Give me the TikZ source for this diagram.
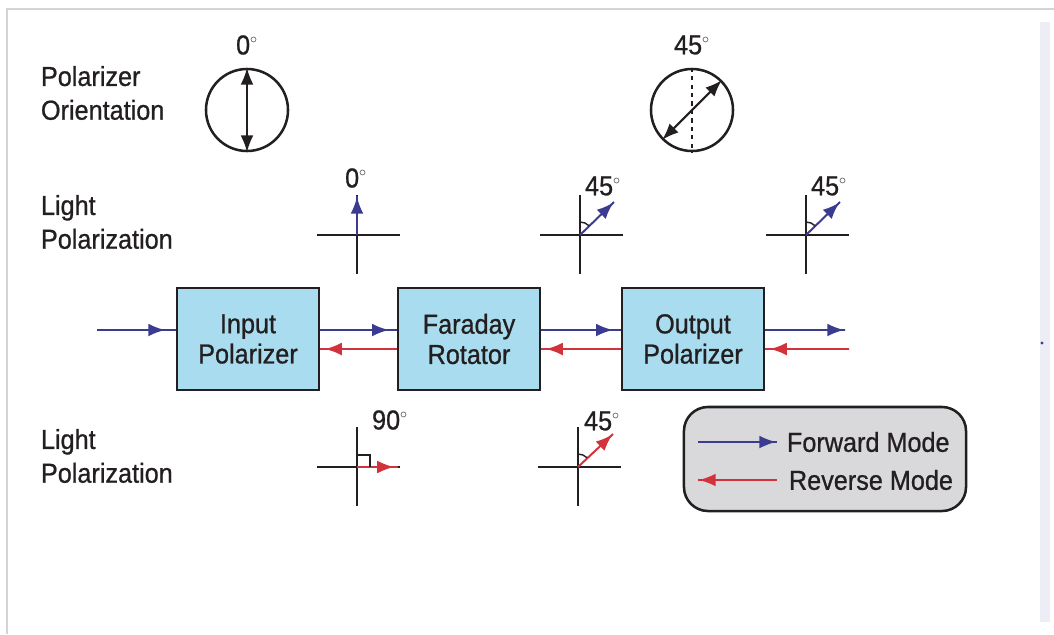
\documentclass[tikz,border=0pt]{standalone}
\usepackage{fontspec}
\setmainfont[FakeStretch=0.92,FakeBold=0.8]{Liberation Sans}
\definecolor{oiInk}{HTML}{231F20}
\definecolor{oiFwd}{HTML}{3B3B8F}
\definecolor{oiRev}{HTML}{D2323C}
\definecolor{oiBox}{HTML}{A9DCEE}
\definecolor{oiKey}{HTML}{D9D9DB}
\definecolor{oiFrame}{HTML}{D4D4D8}
\definecolor{oiStrip}{HTML}{EDEDF5}
\usetikzlibrary{arrows.meta,decorations.markings}

\newcommand\polcross[1]{\draw[axis] (#1) +(-40,0) -- +(43,0) (#1) +(0,-40) -- +(0,39);}
\newcommand\dg{$^{\scriptscriptstyle\circ}$}

\begin{document}
\begin{tikzpicture}[x=0.025cm,y=-0.025cm,
                    >={Latex[length=4.2mm,width=3.2mm]},
                    every node/.style={text=oiInk,font=\fontsize{19.5}{24}\selectfont},
                    block/.style={draw=oiInk,fill=oiBox,line width=1.6pt,align=center,
                                  minimum width=3.55cm,minimum height=2.55cm,
                                  font=\fontsize{19.5}{21.5}\selectfont},
                    sidetext/.style={anchor=west,align=left},
                    disc/.style={circle,draw=oiInk,line width=1.8pt,minimum size=2.05cm,inner sep=0pt},
                    keybox/.style={draw=oiInk,fill=oiKey,line width=1.8pt,rounded corners=0.6cm,
                                   minimum width=7.05cm,minimum height=2.6cm},
                    axis/.style={draw=oiInk,line width=1.5pt},
                    fwd/.style={oiFwd,line width=1.4pt,postaction=decorate,
                                decoration={markings,mark=at position #1 with {\arrow{>}}}},
                    rev/.style={oiRev,line width=1.4pt,postaction=decorate,
                                decoration={markings,mark=at position #1 with {\arrow{>}}}}]
  \useasboundingbox (0,0) rectangle (1054,634);
  \draw[oiFrame,line width=1.5pt] (7,634) -- (7,9) -- (1054,9);
  \fill[oiStrip] (1040,22) rectangle (1050,622);
  \fill[oiFwd] (1042,343) circle[radius=1.2pt];

  \node[sidetext] (orilbl) at (36,93) {Polarizer\\Orientation};
  \node[sidetext] (polup) at (36,222) {Light\\Polarization};
  \node[sidetext] (poldown) at (36,456) {Light\\Polarization};

  \node[disc] (ori0) at (247,110) {};
  \node (ori0deg) at (247,45) {0\dg};
  \draw[<->,line width=1.5pt,oiInk] (ori0.north) -- (ori0.south);
  \node[disc] (ori45) at (692,110) {};
  \node (ori45deg) at (692,45) {45\dg};
  \draw[dashed,line width=1.5pt,oiInk] (ori45.north) -- (ori45.south);
  \draw[<->,line width=1.5pt,oiInk] (ori45.225) -- (ori45.45);

  \node[block] (inpol) at (248,339) {Input\\Polarizer};
  \node[block] (farrot) at (469,339) {Faraday\\Rotator};
  \node[block] (outpol) at (693,339) {Output\\Polarizer};

  \coordinate (srcin) at (97,330);
  \coordinate (fwdout) at (845,330);
  \coordinate (revin) at (849,349);
  \draw[fwd=-2.7mm] (srcin) -- ([yshift=0.225cm]inpol.west);
  \draw[fwd=-2mm] ([yshift=0.225cm]inpol.east) -- ([yshift=0.225cm]farrot.west);
  \draw[fwd=-2mm] ([yshift=0.225cm]farrot.east) -- ([yshift=0.225cm]outpol.west);
  \draw[fwd=-0.2mm] ([yshift=0.225cm]outpol.east) -- (fwdout);
  \draw[rev=-1.2mm] (revin) -- ([yshift=-0.25cm]outpol.east);
  \draw[rev=-1.2mm] ([yshift=-0.25cm]outpol.west) -- ([yshift=-0.25cm]farrot.east);
  \draw[rev=-1.2mm] ([yshift=-0.25cm]farrot.west) -- ([yshift=-0.25cm]inpol.east);

  \coordinate (x1) at (357,235);
  \coordinate (x2) at (580,235);
  \coordinate (x3) at (806,235);
  \coordinate (x4) at (357,467);
  \coordinate (x5) at (578,467);
  \foreach \c in {x1,x2,x3,x4,x5} {\polcross{\c}}
  \coordinate (x1tip) at (357,196);
  \coordinate (x2tip) at (614,202);
  \coordinate (x3tip) at (840,202);
  \coordinate (x4tip) at (398,467);
  \coordinate (x5tip) at (613,434);
  \draw[fwd=-0.2mm] (x1) -- (x1tip);
  \draw[fwd=-0.2mm] (x2) -- (x2tip);
  \draw[fwd=-0.2mm] (x3) -- (x3tip);
  \draw[rev=-1mm] (x4) -- (x4tip);
  \draw[rev=-0.2mm] (x5) -- (x5tip);
  \draw[line width=1pt,oiInk] (x2) ++(0,-13) arc[start angle=90,end angle=45,radius=0.325cm];
  \draw[line width=1pt,oiInk] (x3) ++(0,-13) arc[start angle=90,end angle=45,radius=0.325cm];
  \draw[line width=1pt,oiInk] (x5) ++(0,-13) arc[start angle=90,end angle=45,radius=0.325cm];
  \draw[line width=1pt,oiInk] (x4) ++(0,-12) -| ++(13,12);
  \node (x1deg) at (356,178) {0\dg};
  \node (x2deg) at (603,186) {45\dg};
  \node (x3deg) at (829,186) {45\dg};
  \node (x4deg) at (390,420) {90\dg};
  \node (x5deg) at (602,421) {45\dg};

  \node[keybox] (key) at (825,459) {};
  \coordinate (keyfa) at (698,442);
  \coordinate (keyfb) at (777,442);
  \coordinate (keyra) at (777,480);
  \coordinate (keyrb) at (698,480);
  \draw[fwd=-0.2mm] (keyfa) -- (keyfb);
  \draw[rev=-0.2mm] (keyra) -- (keyrb);
  \node[anchor=west] (fwdtext) at (782,442) {Forward Mode};
  \node[anchor=west] (revtext) at (784,480) {Reverse Mode};
\end{tikzpicture}
\end{document}
